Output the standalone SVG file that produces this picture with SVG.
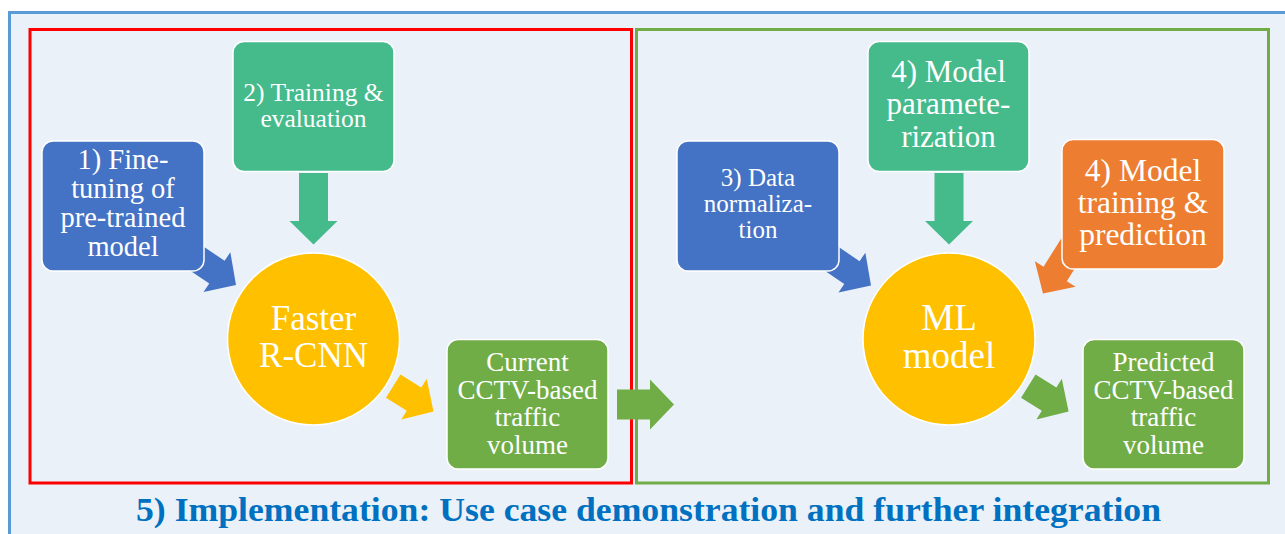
<svg xmlns="http://www.w3.org/2000/svg" width="1285" height="534" viewBox="0 0 1285 534">
<style>
.lbl{font-family:"Liberation Serif","Times New Roman",serif;fill:#ffffff;text-anchor:middle}
.box{stroke:#ffffff;stroke-width:1.5}
.blue{fill:#4472C4}
.teal{fill:#45BA8B}
.green{fill:#70AD47}
.orange{fill:#ED7D31}
.yellow{fill:#FFC000}
.title{font-family:"Liberation Serif","Times New Roman",serif;font-weight:bold;fill:#0070C0}
</style>
<defs>
<polygon id="arrShort" points="0,0 -23,-24 -23,-13.7 -47.5,-13.7 -47.5,13.7 -23,13.7 -23,24"/>
<polygon id="arrLong" points="0,0 -23,-24 -23,-13.7 -62,-13.7 -62,13.7 -23,13.7 -23,24"/>
<polygon id="arrDown" points="0,0 -23.5,-24 -23.5,-14.5 -71.5,-14.5 -71.5,14.5 -23.5,14.5 -23.5,24"/>
<polygon id="arrMid" points="0,0 -24,-25 -24,-15 -57,-15 -57,15 -24,15 -24,25"/>
</defs>
<rect x="0" y="0" width="1285" height="534" fill="#ffffff"/>
<rect x="9.5" y="12.5" width="1290" height="540" fill="#EAF1F9" stroke="#5B9BD5" stroke-width="3"/>
<rect id="frame-left" x="30" y="29.5" width="601.5" height="453.5" fill="none" stroke="#FF0000" stroke-width="3"/>
<rect id="frame-right" x="636.5" y="29.5" width="632" height="453.5" fill="none" stroke="#70AD47" stroke-width="3"/>

<g id="connectors">
<use href="#arrLong" class="blue" transform="translate(236,285) rotate(34)"/>
<use href="#arrDown" class="teal" transform="translate(313.5,244.5) rotate(90)"/>
<use href="#arrShort" class="yellow" transform="translate(433.5,411.4) rotate(32)"/>
<use href="#arrMid" class="green" transform="translate(674,404.5)"/>
<use href="#arrLong" class="blue" transform="translate(871,285.4) rotate(34)"/>
<use href="#arrDown" class="teal" transform="translate(949,244.5) rotate(90)"/>
<use href="#arrLong" class="orange" transform="translate(1043,293.5) rotate(122)"/>
<use href="#arrShort" class="green" transform="translate(1068.6,411.4) rotate(32)"/>
</g>

<g id="node-finetuning">
<rect class="box blue" x="42" y="141" width="162" height="130" rx="11"/>
<text class="lbl" font-size="28.5" x="123"><tspan x="123" y="168.6">1) Fine-</tspan><tspan x="123" y="197.5">tuning of</tspan><tspan x="123" y="226.5">pre-trained</tspan><tspan x="123" y="256">model</tspan></text>
</g>
<g id="node-training">
<rect class="box teal" x="233" y="41.5" width="161" height="130" rx="11"/>
<text class="lbl" font-size="25.5" x="313.5"><tspan x="313.5" y="100.5">2) Training &amp;</tspan><tspan x="313.5" y="126.7">evaluation</tspan></text>
</g>
<g id="node-fasterrcnn">
<circle class="box yellow" cx="313.5" cy="339" r="86"/>
<text class="lbl" font-size="35" x="313.5"><tspan x="313.5" y="330">Faster</tspan><tspan x="313.5" y="366.5">R-CNN</tspan></text>
</g>
<g id="node-current">
<rect class="box green" x="447" y="339.5" width="161" height="129.5" rx="11"/>
<text class="lbl" font-size="27" x="527.5"><tspan x="527.5" y="370.6">Current</tspan><tspan x="527.5" y="398.5">CCTV-based</tspan><tspan x="527.5" y="425.8">traffic</tspan><tspan x="527.5" y="454">volume</tspan></text>
</g>
<g id="node-normalization">
<rect class="box blue" x="677" y="141" width="162" height="130" rx="11"/>
<text class="lbl" font-size="25" x="758"><tspan x="758" y="185.6">3) Data</tspan><tspan x="758" y="212">normaliza-</tspan><tspan x="758" y="238">tion</tspan></text>
</g>
<g id="node-parameterization">
<rect class="box teal" x="868" y="41.5" width="161" height="130" rx="11"/>
<text class="lbl" font-size="31" x="948.5"><tspan x="948.5" y="81.7">4) Model</tspan><tspan x="948.5" y="114">paramete-</tspan><tspan x="948.5" y="147">rization</tspan></text>
</g>
<g id="node-prediction">
<rect class="box orange" x="1062" y="139.5" width="162" height="129.5" rx="11"/>
<text class="lbl" font-size="31.5" x="1143"><tspan x="1143" y="180.5">4) Model</tspan><tspan x="1143" y="212.7">training &amp;</tspan><tspan x="1143" y="245">prediction</tspan></text>
</g>
<g id="node-mlmodel">
<circle class="box yellow" cx="949" cy="339" r="86"/>
<text class="lbl" font-size="37" x="949"><tspan x="949" y="330">ML</tspan><tspan x="949" y="368">model</tspan></text>
</g>
<g id="node-predicted">
<rect class="box green" x="1083" y="339.5" width="161" height="129.5" rx="11"/>
<text class="lbl" font-size="27" x="1163.5"><tspan x="1163.5" y="370.6">Predicted</tspan><tspan x="1163.5" y="398.5">CCTV-based</tspan><tspan x="1163.5" y="425.8">traffic</tspan><tspan x="1163.5" y="454">volume</tspan></text>
</g>
<text class="title" font-size="33" x="136" y="521" textLength="1025" lengthAdjust="spacingAndGlyphs">5) Implementation: Use case demonstration and further integration</text>
</svg>
